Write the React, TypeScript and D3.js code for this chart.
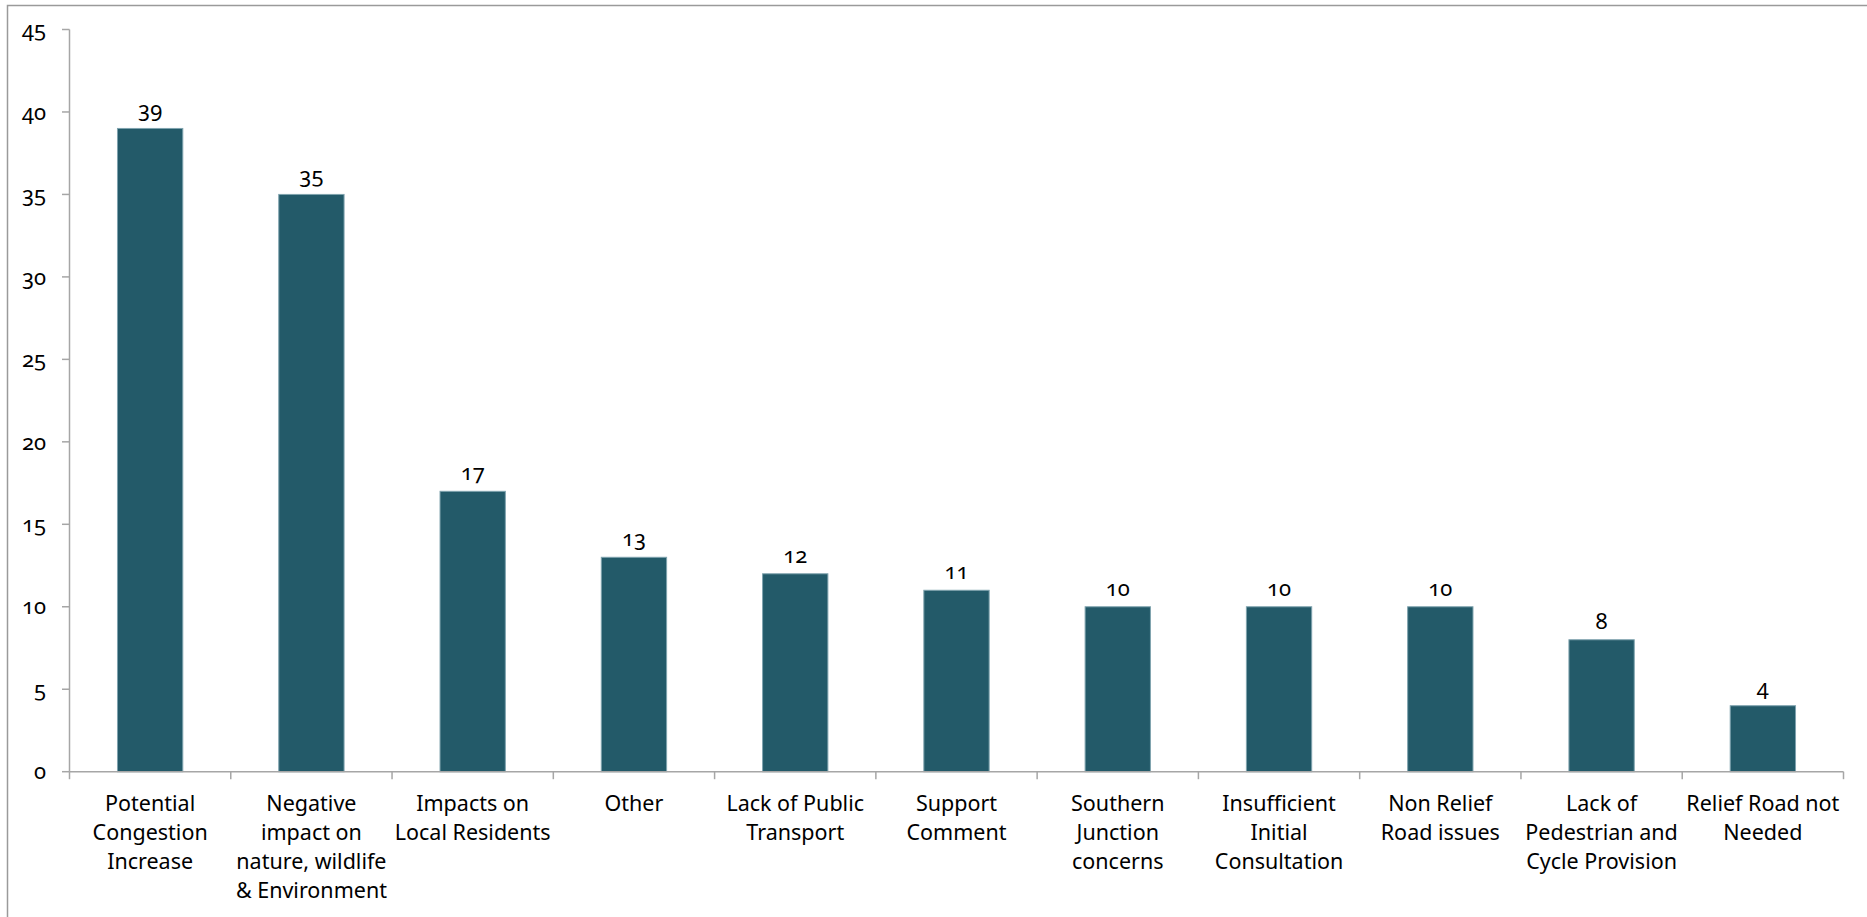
import React from "react";
import * as d3 from "d3";

const categories: string[] = [
  "Potential\nCongestion\nIncrease",
  "Negative\nimpact on\nnature, wildlife\n& Environment",
  "Impacts on\nLocal Residents",
  "Other",
  "Lack of Public\nTransport",
  "Support\nComment",
  "Southern\nJunction\nconcerns",
  "Insufficient\nInitial\nConsultation",
  "Non Relief\nRoad issues",
  "Lack of\nPedestrian and\nCycle Provision",
  "Relief Road not\nNeeded",
];
const values: number[] = [39, 35, 17, 13, 12, 11, 10, 10, 10, 8, 4];
const yTicks: number[] = [0, 5, 10, 15, 20, 25, 30, 35, 40, 45];

const W = 1867;
const H = 917;
const FONT = "'Noto Sans', 'Open Sans', sans-serif";

export default function App() {
  const x0 = 69.5;
  const x1 = 1843.5;
  const yBase = 771.7;
  const yTop = 29.5;
  const x = d3.scaleBand<number>().domain(d3.range(categories.length)).range([x0, x1]).padding(0);
  const y = d3.scaleLinear().domain([0, 45]).range([yBase, yTop]);
  const bw = x.bandwidth() * 0.405;
  const axisColor = "#a6a6a6";
  const textStyle: React.CSSProperties = { fontVariantNumeric: "oldstyle-nums", fontFeatureSettings: "'onum' 1" };

  return (
    <div style={{ position: "absolute", left: 0, top: 0, width: W, height: H, overflow: "hidden", background: "#fff" }}>
      <svg width={W} height={H} style={{ display: "block" }} fontFamily={FONT}>
        <rect x={0} y={0} width={W} height={H} fill="#fff" />
        <rect x={7.5} y={5.5} width={W} height={H} fill="none" stroke="#9a9a9a" strokeWidth={1.5} />

        {values.map((v, i) => {
          const cx = (x(i) as number) + x.bandwidth() / 2;
          return (
            <g key={i}>
              <rect
                x={cx - bw / 2}
                y={y(v)}
                width={bw}
                height={yBase - y(v)}
                fill="#235A69"
                stroke="#7fa3ae"
                strokeWidth={1}
              />
              <text x={cx} y={y(v) - 11} textAnchor="middle" fontSize={22} fill="#000" style={textStyle}>
                {v}
              </text>
            </g>
          );
        })}

        <line x1={x0} x2={x0} y1={yTop} y2={yBase} stroke={axisColor} strokeWidth={1.5} />
        {yTicks.map((t) => (
          <g key={t}>
            <line x1={x0 - 7.5} x2={x0} y1={y(t)} y2={y(t)} stroke={axisColor} strokeWidth={1.5} />
            <text x={46} y={y(t)} dy="0.35em" textAnchor="end" fontSize={22} fill="#000" style={textStyle}>
              {t}
            </text>
          </g>
        ))}

        <line x1={x0} x2={x1} y1={yBase} y2={yBase} stroke={axisColor} strokeWidth={1.5} />
        {d3.range(categories.length + 1).map((i) => {
          const px = i < categories.length ? (x(i) as number) : x1;
          return <line key={i} x1={px} x2={px} y1={yBase} y2={yBase + 7.5} stroke={axisColor} strokeWidth={1.5} />;
        })}
        {categories.map((c, i) => {
          const cx = (x(i) as number) + x.bandwidth() / 2;
          return (
            <text key={i} x={cx} y={811} textAnchor="middle" fontSize={21.5} fill="#000">
              {c.split("\n").map((line, j) => (
                <tspan key={j} x={cx} dy={j === 0 ? 0 : 29}>
                  {line}
                </tspan>
              ))}
            </text>
          );
        })}
      </svg>
    </div>
  );
}
